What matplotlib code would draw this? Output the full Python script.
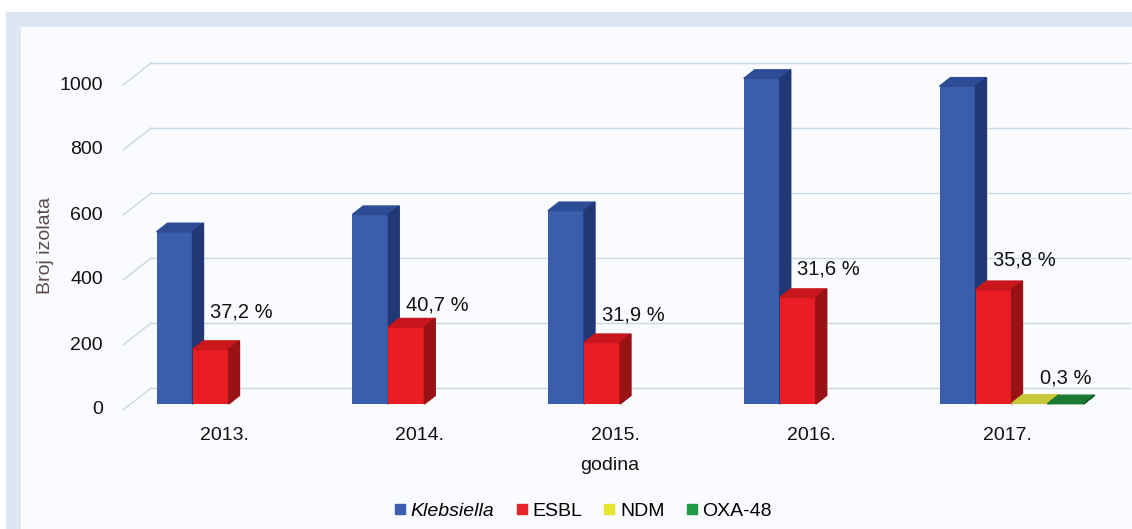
import numpy as np
import matplotlib.pyplot as plt
from matplotlib.patches import Rectangle, Polygon
from matplotlib.lines import Line2D

plt.rcParams['font.family'] = ['Liberation Sans', 'DejaVu Sans']

# podaci
godine = ['2013.', '2014.', '2015.', '2016.', '2017.']
serije = ['Klebsiella', 'ESBL', 'NDM', 'OXA-48']
klebsiella = [530, 583, 595, 1002, 978]
esbl = [168, 237, 189, 328, 352]
ndm = [0, 0, 0, 0, 2]
oxa48 = [0, 0, 0, 0, 1]
esbl_oznake = ['37,2 %', '40,7 %', '31,9 %', '31,6 %', '35,8 %']
ndm_oznake = ['', '', '', '', '0,3 %']
y_ticks = [0, 200, 400, 600, 800, 1000]

# boje: lice, vrh, bok
boje = {
    'Klebsiella': ('#3a5eab', '#2d4c96', '#213776'),
    'ESBL': ('#ea1d25', '#c8161d', '#981216'),
    'NDM': ('#dede2e', '#c6c83a', '#9a9a22'),
    'OXA-48': ('#1f9446', '#1a7a34', '#125c28'),
}
leg_boje = ['#3a5fb0', '#e5252a', '#e6e632', '#1e9a48']

W, H = 1132, 529
fig = plt.figure(figsize=(W / 100, H / 100), dpi=100)

# pozadina (okvir i unutarnja ploha)
fig.add_artist(Rectangle((6 / W, 0), 1, 1 - 12 / H, transform=fig.transFigure,
                         color='#dfe6f3', zorder=-3))
fig.add_artist(Rectangle((21 / W, 0), 1, 1 - 27 / H, transform=fig.transFigure,
                         color='#f9fbfe', zorder=-2))

# skala u pikselima
cx0, pitch = 221, 195.75      # sredina prve kategorije, razmak
y0, ppu = 410, 0.325          # y piksel za 0, pikseli po jedinici


def px2x(px):
    return (px - cx0) / pitch


def py2v(py):
    return (y0 - py) / ppu


ax = fig.add_axes([0, 0, 1, 1])
ax.set_xlim(px2x(0), px2x(W))
ax.set_ylim(py2v(H), py2v(0))
ax.axis('off')

# dubina zida i stupaca
dxb, dyb = 28 / pitch, 22 / ppu
f1, f2 = 0.27, 0.66
w = 36 / pitch

# mreza na straznjem zidu
grid_c = '#c9d9e8'
for v in y_ticks:
    ax.plot([-0.5, -0.5 + dxb], [v, v + dyb], color=grid_c, lw=1, zorder=1)
    ax.plot([-0.5 + dxb, 4.5 + dxb], [v + dyb, v + dyb], color=grid_c, lw=1, zorder=1)
    ax.text(px2x(103), v, str(v), ha='right', va='center', fontsize=14, color='#111111')

# stupci
vrijednosti = [klebsiella, esbl, ndm, oxa48]
ddx, ddy = (f2 - f1) * dxb, (f2 - f1) * dyb
base = f1 * dyb
z = 2
for i in range(len(godine)):
    for k, (ime, vals) in enumerate(zip(serije, vrijednosti)):
        v = vals[i]
        if v <= 0:
            continue
        lice, vrh, bok = boje[ime]
        x0 = i + (k - 1.5) * w - w / 2 + f1 * dxb
        yt = base + v
        ax.bar(x0, v, width=w, bottom=base, align='edge', color=lice, zorder=z)
        ax.add_patch(Polygon([(x0, yt), (x0 + w, yt), (x0 + w + ddx, yt + ddy), (x0 + ddx, yt + ddy)],
                             closed=True, color=vrh, zorder=z))
        ax.add_patch(Polygon([(x0 + w, base), (x0 + w, yt), (x0 + w + ddx, yt + ddy), (x0 + w + ddx, base + ddy)],
                             closed=True, color=bok, zorder=z))
        z += 1

# oznake postotaka
esbl_dy = [37, 22, 28, 28, 30]
for i, (v, t) in enumerate(zip(esbl, esbl_oznake)):
    xc = i - 0.5 * w + f1 * dxb + 31 / pitch
    ax.text(xc, base + v + esbl_dy[i] / ppu, t, ha='center', va='center',
            fontsize=14.5, color='#111111', zorder=50)
for i, (v, t) in enumerate(zip(ndm, ndm_oznake)):
    if t:
        xc = i + 0.5 * w + f1 * dxb + 36 / pitch
        ax.text(xc, base + v + 25 / ppu, t, ha='center', va='center',
                fontsize=14.5, color='#111111', zorder=50)

# kategorije
for i, g in enumerate(godine):
    ax.text(i + 3 / pitch, py2v(435), g, ha='center', va='center', fontsize=14, color='#111111')
ax.text(px2x(610), py2v(465), 'godina', ha='center', va='center', fontsize=14, color='#111111')
ax.text(px2x(45), py2v(245), 'Broj izolata', ha='center', va='center', rotation=90,
        fontsize=14, color='#5a4c4a')

# legenda
handles = [Line2D([], [], marker='s', ls='', markersize=7, color=c) for c in leg_boje]
leg = fig.legend(handles, serije, loc='center', bbox_to_anchor=(583 / W, 1 - 511 / H),
                 ncol=4, frameon=False, fontsize=14, handlelength=0.6, handletextpad=0.25,
                 columnspacing=1.1, borderpad=0)
leg.get_texts()[0].set_fontstyle('italic')

fig.savefig('out.png', dpi=100)
